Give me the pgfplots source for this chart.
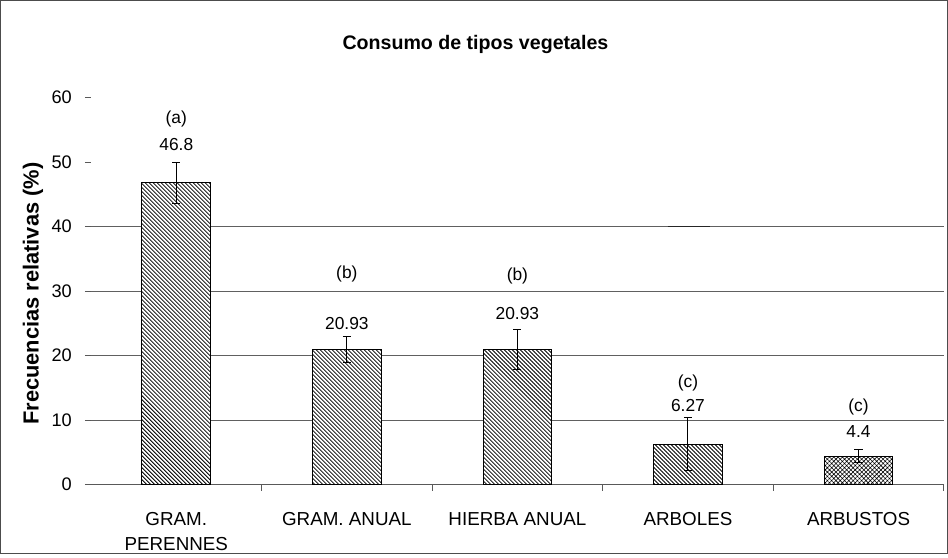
\documentclass[border=0pt]{standalone}
\usepackage{pgfplots}
\pgfplotsset{compat=1.18}
\usepackage{pgfplotstable}
\usepackage{fontspec}
\setmainfont{Liberation Sans}
\usetikzlibrary{patterns.meta}
\pgfplotstableread{
x y e
0 46.8 3.2
1 20.93 2.0
2 20.93 3.1
3 6.27 4.1
}\mainbars
\pgfplotstableread{
x y e
4 4.4 1.0
}\arbustos
\begin{document}
\begin{tikzpicture}
\begin{axis}[
  scale only axis, width=422pt, height=191.5pt,
  xmin=-0.5, xmax=4.5, ymin=0, ymax=60,
  clip=false,
  axis x line*=bottom, axis y line*=left,
  y axis line style={draw=none},
  x axis line style={draw=gray!70!black, line width=0.5pt},
  tick align=outside,
  xtick={0,1,2,3,4},
  xticklabels={{\strut GRAM.\\PERENNES},{\strut GRAM. ANUAL},{\strut HIERBA ANUAL},{\strut ARBOLES},{\strut ARBUSTOS}},
  major x tick style={draw=none},
  minor xtick={0.5,1.5,2.5,3.5,4.5},
  minor x tick style={draw=gray!70!black, line width=0.5pt},
  minor tick length=3pt,
  ytick={0,10,...,60},
  ytick style={draw=gray!70!black, line width=0.5pt},
  major tick length=3pt,
  extra y ticks={10,20,30,40},
  extra y tick labels={},
  extra y tick style={ymajorgrids=true, major tick length=0pt},
  major grid style={draw=gray!75!black, line width=0.5pt},
  /pgf/number format/assume math mode=true,
  yticklabel style={font=\fontsize{9}{10}\selectfont, xshift=-3pt},
  xticklabel style={font=\fontsize{9.3}{12.5}\selectfont, align=center, anchor=north, yshift=-5pt},
]
\addplot[ybar, bar shift=0pt, bar width=34pt, draw=black, line width=0.5pt, fill=white,
  postaction={pattern={Lines[angle=-45,distance=1.4pt,line width=0.4pt]}},
  error bars/.cd, y dir=both, y explicit,
  error bar style={black, line width=0.5pt},
  error mark options={rotate=90, mark size=2pt, black, line width=0.5pt}]
  table[x=x, y=y, y error=e] {\mainbars};
\addplot[ybar, bar shift=0pt, bar width=34pt, draw=black, line width=0.5pt, fill=white,
  postaction={pattern={Hatch[angle=45,distance=1.5pt,line width=0.28pt]}},
  error bars/.cd, y dir=both, y explicit,
  error bar style={black, line width=0.5pt},
  error mark options={rotate=90, mark size=2pt, black, line width=0.5pt}]
  table[x=x, y=y, y error=e] {\arbustos};
\draw[black!85, line width=0.7pt] (axis cs:2.88,40) -- (axis cs:3.13,40);
\begin{scope}[every node/.style={font=\fontsize{8.6}{10}\selectfont}]
\node at (axis cs:0,56.7) {(a)};
\node at (axis cs:0,52.7) {46.8};
\node at (axis cs:1,32.6) {(b)};
\node at (axis cs:1,24.9) {20.93};
\node at (axis cs:2,32.3) {(b)};
\node at (axis cs:2,26.5) {20.93};
\node at (axis cs:3,15.8) {(c)};
\node at (axis cs:3,12.2) {6.27};
\node at (axis cs:4,12.0) {(c)};
\node at (axis cs:4,8.2) {4.4};
\end{scope}
\node[font=\bfseries\fontsize{9.7}{11}\selectfont] at (axis cs:1.754,68.2) {Consumo de tipos vegetales};
\node[font=\bfseries\fontsize{10.8}{12}\selectfont, rotate=90] at (axis cs:-0.84,29.6) {Frecuencias relativas (\%)};
\draw[gray!60!black, line width=0.6pt] (axis cs:-1.03,-10.65) rectangle (axis cs:4.521,75.04);
\end{axis}
\end{tikzpicture}
\end{document}
